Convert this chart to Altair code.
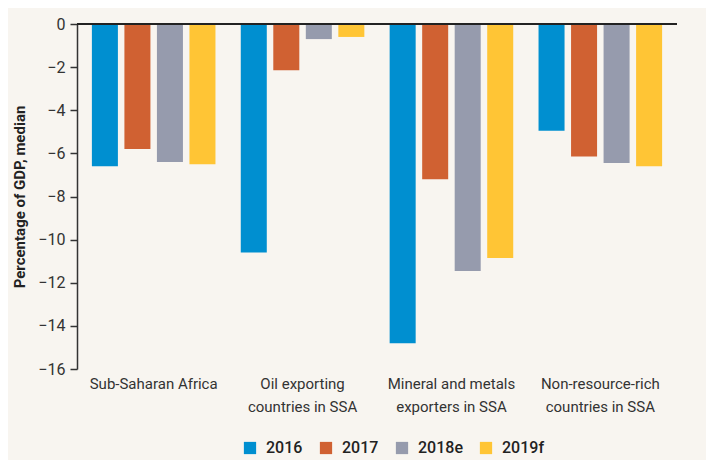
import altair as alt
import pandas as pd

categories = ["Sub-Saharan Africa", "Oil exporting\ncountries in SSA",
              "Mineral and metals\nexporters in SSA", "Non-resource-rich\ncountries  in SSA"]
years = ["2016", "2017", "2018e", "2019f"]
v2016 = [-6.6, -10.6, -14.8, -4.95]
v2017 = [-5.8, -2.15, -7.2, -6.15]
v2018 = [-6.4, -0.7, -11.45, -6.45]
v2019 = [-6.5, -0.6, -10.85, -6.6]
colors = ["#008FD0", "#D06132", "#969BAD", "#FFC535"]

rows = []
for yr, vals in zip(years, [v2016, v2017, v2018, v2019]):
    for c, v in zip(categories, vals):
        rows.append({"region": c, "year": yr, "value": v})
df = pd.DataFrame(rows)

FONT = "Roboto"

bars = alt.Chart(df).mark_bar().encode(
    x=alt.X("region:N", sort=categories,
            scale=alt.Scale(paddingInner=0.17, paddingOuter=0.1),
            axis=alt.Axis(title=None, orient="bottom", domain=False, ticks=False,
                          labelAngle=0, labelFontSize=15, labelColor="#333",
                          labelPadding=7, labelLineHeight=23, labelBaseline="top",
                          labelExpr="split(datum.value, '\\n')")),
    xOffset=alt.XOffset("year:N", sort=years, scale=alt.Scale(paddingInner=0.2, paddingOuter=0)),
    y=alt.Y("value:Q", scale=alt.Scale(domain=[-16, 0], nice=False),
            axis=alt.Axis(title="Percentage of GDP, median", values=list(range(-16, 1, 2)),
                          grid=False, domainColor="#333", domainWidth=1.5,
                          tickColor="#333", tickSize=7, tickWidth=1.5,
                          labelFontSize=16, labelColor="#333", labelPadding=5,
                          titleFontSize=15, titleFontWeight="bold", titleColor="#222",
                          titlePadding=10)),
    color=alt.Color("year:N", sort=years, scale=alt.Scale(domain=years, range=colors),
                    legend=alt.Legend(title=None, orient="none", direction="horizontal",
                                      legendX=165, legendY=416, symbolType="square",
                                      symbolSize=150, symbolStrokeWidth=0, labelFontSize=16,
                                      labelColor="#222", labelFontWeight=500, labelOffset=8,
                                      columnPadding=15)),
)

zero = alt.Chart(df).mark_rule(color="#222", strokeWidth=2).encode(y=alt.datum(0))

chart = alt.layer(bars, zero).properties(
    width=600, height=345,
    background="#F8F5F0",
    padding={"left": 69, "top": 16, "right": 29, "bottom": 91},
    autosize=alt.AutoSizeParams(type="none"),
).configure(font=FONT).configure_view(stroke=None)

chart.save("out.html", embed_options={"renderer": "svg", "actions": False})
